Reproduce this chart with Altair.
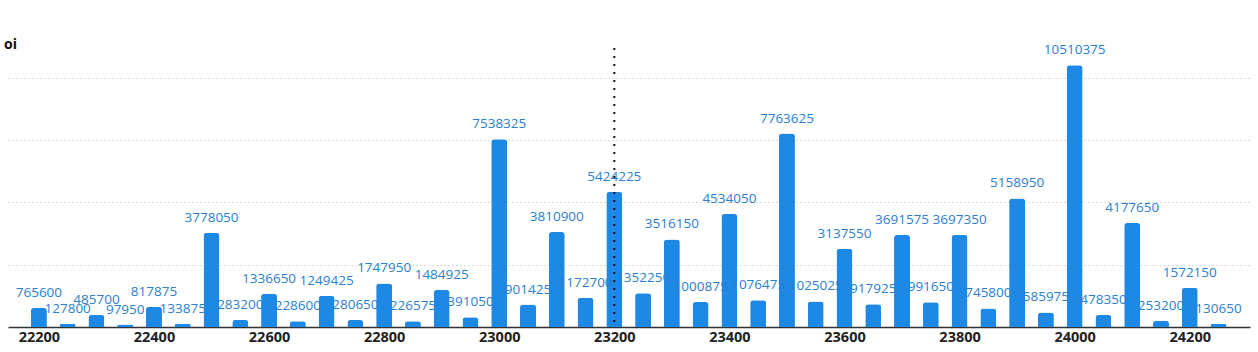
import altair as alt
import pandas as pd

strikes = [22200, 22250, 22300, 22350, 22400, 22450, 22500, 22550, 22600, 22650,
           22700, 22750, 22800, 22850, 22900, 22950, 23000, 23050, 23100, 23150,
           23200, 23250, 23300, 23350, 23400, 23450, 23500, 23550, 23600, 23650,
           23700, 23750, 23800, 23850, 23900, 23950, 24000, 24050, 24100, 24150,
           24200, 24250]
oi = [765600, 127800, 485700, 97950, 817875, 133875, 3778050, 283200, 1336650, 228600,
      1249425, 280650, 1747950, 226575, 1484925, 391050, 7538325, 901425, 3810900, 1172700,
      5424225, 1352250, 3516150, 1000875, 4534050, 1076475, 7763625, 1025025, 3137550, 917925,
      3691575, 991650, 3697350, 745800, 5158950, 585975, 10510375, 478350, 4177650, 253200,
      1572150, 130650]
x_ticks = [22200, 22400, 22600, 22800, 23000, 23200, 23400, 23600, 23800, 24000, 24200]
y_grid = [2500000, 5000000, 7500000, 10000000]
spot = [23200]
y_title = ["oi"]

df = pd.DataFrame({"strike": strikes, "oi": oi})
FONT = "Open Sans"

xs = alt.Scale(domain=[22155, 24296], nice=False, zero=False)
ys = alt.Scale(domain=[0, 11200000], nice=False)

x_axis = alt.Axis(values=x_ticks, title=None, format="d", ticks=False, grid=False,
                  labelFont=FONT, labelFontSize=14.5, labelFontWeight="bold",
                  labelColor="#222222", labelPadding=3, domainColor="#333333",
                  domainWidth=1.5)
y_axis = alt.Axis(values=y_grid, title=None, labels=False, ticks=False, domain=False,
                  grid=True, gridColor="#b8b8b8", gridDash=[1, 3], gridWidth=1)

base = alt.Chart(df)
bars = base.mark_bar(size=16, color="#1e88e5", cornerRadiusTopLeft=3,
                     cornerRadiusTopRight=3).encode(
    x=alt.X("strike:Q", scale=xs, axis=x_axis),
    y=alt.Y("oi:Q", scale=ys, axis=y_axis),
)
labels = base.mark_text(dy=-8, font=FONT, fontSize=13.5, color="#2a80d0",
                        baseline="bottom").encode(
    x=alt.X("strike:Q", scale=xs),
    y=alt.Y("oi:Q", scale=ys),
    text=alt.Text("oi:Q", format="d"),
)
rule = alt.Chart(pd.DataFrame({"strike": spot})).mark_rule(
    color="#111111", strokeDash=[2, 6], strokeWidth=2).encode(
    x=alt.X("strike:Q", scale=xs),
    y=alt.value(0), y2=alt.value(279),
)
title = alt.Chart(pd.DataFrame({"t": y_title})).mark_text(
    font=FONT, fontSize=14, fontWeight="bold", color="#111111", align="left",
    baseline="middle").encode(
    x=alt.value(-4), y=alt.value(-3), text="t:N")

chart = alt.layer(bars, labels, rule, title).properties(
    width=1242, height=279,
    background="white",
    autosize=alt.AutoSizeParams(type="none"),
    padding={"left": 8, "top": 48, "right": 8, "bottom": 25},
).configure_view(stroke=None)

chart.save("out.html", embed_options={"renderer": "svg", "actions": False})
